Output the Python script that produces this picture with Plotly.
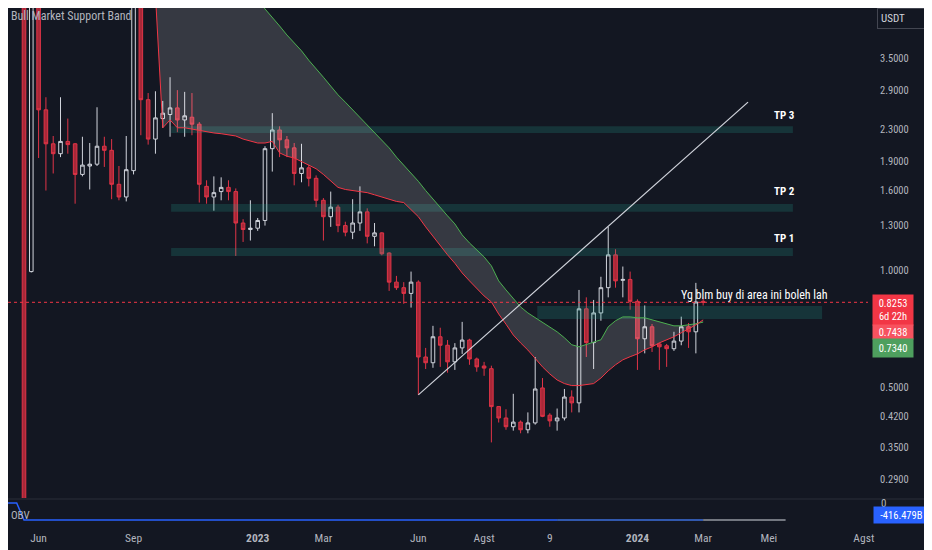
import math

import pandas as pd
import plotly.graph_objects as go

# weekly candles (USDT), from the week of 23 May 2022 to the running week of 4 Mar 2024
first_week = "2022-05-23"

opens = [5.8, 0.99, 4.85, 2.58, 2.11, 1.99, 2.14, 2.11, 1.76, 1.85,
         1.87, 2.08, 2.03, 1.66, 1.54, 1.80, 5.4, 2.74, 2.17, 2.45,
         2.51, 2.61, 2.43, 2.47, 2.37, 1.64, 1.54, 1.59, 1.63, 1.59,
         1.32, 1.27, 1.28, 1.34, 2.05, 2.29, 2.16, 2.06, 1.77, 1.83,
         1.72, 1.51, 1.37, 1.45, 1.30, 1.25, 1.32, 1.41, 1.22, 1.245,
         1.105, 0.93, 0.90, 0.87, 0.93, 0.597, 0.577, 0.673, 0.64, 0.58,
         0.63, 0.66, 0.59, 0.566, 0.557, 0.445, 0.416, 0.395, 0.406, 0.388,
         0.404, 0.497, 0.423, 0.409, 0.416, 0.471, 0.455, 0.794, 0.65, 0.775,
         0.90, 1.093, 0.94, 0.945, 0.83, 0.665, 0.714, 0.645, 0.638, 0.627,
         0.656, 0.714, 0.693, 0.83]
highs = [6.2, 5.6, 5.3, 2.78, 2.21, 2.78, 2.45, 2.12, 2.20, 2.12,
         2.62, 2.20, 2.17, 1.85, 2.21, 6.0, 5.7, 2.85, 2.88, 2.72,
         3.13, 2.90, 2.87, 2.85, 2.40, 1.70, 1.74, 1.73, 1.70, 1.62,
         1.35, 1.51, 1.36, 2.08, 2.53, 2.34, 2.21, 2.12, 2.11, 1.86,
         1.75, 1.53, 1.59, 1.47, 1.33, 1.52, 1.64, 1.44, 1.32, 1.25,
         1.11, 0.965, 0.93, 0.99, 0.94, 0.63, 0.718, 0.71, 0.66, 0.648,
         0.735, 0.665, 0.595, 0.58, 0.567, 0.446, 0.438, 0.48, 0.41, 0.43,
         0.597, 0.527, 0.428, 0.44, 0.494, 0.49, 0.888, 0.85, 0.837, 0.96,
         1.29, 1.13, 1.02, 0.99, 0.84, 0.81, 0.726, 0.65, 0.645, 0.693,
         0.758, 0.73, 0.926, 0.85]
lows = [0.15, 0.985, 1.94, 1.60, 1.77, 1.95, 1.99, 1.48, 1.74, 1.61,
        1.85, 1.84, 1.52, 1.51, 1.50, 1.76, 2.22, 2.10, 1.99, 2.32,
        2.20, 2.26, 2.20, 2.22, 1.49, 1.48, 1.42, 1.51, 1.51, 1.086,
        1.18, 1.19, 1.26, 1.30, 1.79, 1.95, 1.95, 1.65, 1.68, 1.64,
        1.45, 1.19, 1.29, 1.25, 1.22, 1.20, 1.26, 1.17, 1.15, 1.09,
        0.883, 0.888, 0.818, 0.80, 0.477, 0.556, 0.56, 0.563, 0.544, 0.553,
        0.608, 0.57, 0.547, 0.534, 0.36, 0.405, 0.388, 0.386, 0.38, 0.38,
        0.40, 0.418, 0.395, 0.386, 0.41, 0.43, 0.43, 0.597, 0.556, 0.74,
        0.85, 0.90, 0.85, 0.79, 0.553, 0.61, 0.615, 0.553, 0.563, 0.619,
        0.64, 0.63, 0.61, 0.81]
closes = [0.2, 4.85, 2.58, 2.11, 1.99, 2.14, 2.10, 1.76, 1.86, 1.87,
          2.08, 2.03, 1.66, 1.54, 1.81, 5.4, 2.74, 2.17, 2.46, 2.53,
          2.61, 2.43, 2.49, 2.37, 1.66, 1.54, 1.58, 1.63, 1.59, 1.32,
          1.27, 1.28, 1.34, 2.05, 2.29, 2.16, 2.06, 1.77, 1.83, 1.72,
          1.51, 1.37, 1.45, 1.30, 1.25, 1.32, 1.41, 1.22, 1.245, 1.10,
          0.93, 0.90, 0.87, 0.93, 0.597, 0.577, 0.673, 0.64, 0.58, 0.63,
          0.66, 0.59, 0.563, 0.559, 0.445, 0.416, 0.395, 0.406, 0.388, 0.404,
          0.494, 0.42, 0.409, 0.416, 0.471, 0.455, 0.794, 0.65, 0.775, 0.90,
          1.093, 0.937, 0.945, 0.83, 0.665, 0.714, 0.638, 0.634, 0.627, 0.656,
          0.714, 0.693, 0.827, 0.8253]

# Bull Market Support Band: 20w SMA (red) and 21w EMA (green), from the 19th week on
band_from = 18
sma20 = [5.1, 2.32, 2.43, 2.32, 2.32, 2.30, 2.28, 2.26, 2.25, 2.24,
         2.22, 2.21, 2.17, 2.14, 2.12, 2.12, 2.14, 2.00, 1.96, 1.94,
         1.90, 1.86, 1.82, 1.76, 1.69, 1.63, 1.61, 1.60, 1.59, 1.58,
         1.56, 1.54, 1.52, 1.50, 1.49, 1.43, 1.37, 1.29, 1.22, 1.15,
         1.093, 1.04, 0.982, 0.937, 0.894, 0.857, 0.827, 0.77, 0.725, 0.68,
         0.649, 0.622, 0.592, 0.563, 0.54, 0.521, 0.51, 0.504, 0.504, 0.506,
         0.51, 0.527, 0.55, 0.57, 0.587, 0.598, 0.608, 0.623, 0.634, 0.649,
         0.661, 0.673, 0.689, 0.705, 0.722, 0.7438]
ema21 = [9.9, 9.36, 8.93, 8.54, 8.13, 7.72, 7.37, 7.02, 6.69, 6.31,
         6.01, 5.70, 5.44, 5.18, 4.94, 4.69, 4.47, 4.24, 4.02, 3.83,
         3.66, 3.46, 3.30, 3.13, 2.97, 2.82, 2.70, 2.58, 2.46, 2.36,
         2.25, 2.16, 2.06, 1.95, 1.86, 1.775, 1.69, 1.60, 1.52, 1.44,
         1.377, 1.313, 1.23, 1.173, 1.126, 1.08, 1.024, 0.937, 0.888, 0.842,
         0.803, 0.775, 0.753, 0.735, 0.714, 0.693, 0.669, 0.642, 0.634, 0.642,
         0.653, 0.661, 0.714, 0.74, 0.757, 0.757, 0.753, 0.753, 0.744, 0.735,
         0.727, 0.718, 0.718, 0.722, 0.727, 0.7340]

# OBV pane (billions): main line, highlighted recent part, faded projection
obv_weeks = ["2022-04-25", "2022-05-16", "2022-05-23", "2023-10-16"]
obv_values = [0.0, 0.0, -416.2, -416.4]
obv_recent_weeks = ["2023-10-16", "2024-03-04"]
obv_recent = [-416.4, -416.479]
obv_ahead_weeks = ["2024-03-04", "2024-05-22"]
obv_ahead = [-416.479, -416.479]

# drawings
tp_zone_weeks = ["2022-10-11", "2024-05-29"]
tp1_zone = [1.086, 1.139]
tp2_zone = [1.41, 1.478]
tp3_zone = [2.25, 2.34]
buy_zone_weeks = ["2023-09-27", "2024-06-26"]
buy_zone = [0.748, 0.808]
trend_weeks = ["2023-06-05", "2024-04-16"]
trend_prices = [0.477, 2.70]

price_ticks = [0.29, 0.35, 0.42, 0.5, 1.0, 1.3, 1.6, 1.9, 2.3, 2.9, 3.5]
date_ticks = ["2022-06-06", "2022-09-05", "2023-01-02", "2023-03-06", "2023-06-05", "2023-08-07",
              "2023-10-09", "2024-01-01", "2024-03-04", "2024-05-06", "2024-08-05"]
date_labels = ["Jun", "Sep", "<b>2023</b>", "Mar", "Jun", "Agst", "9", "<b>2024</b>", "Mar", "Mei", "Agst"]

BG = "#131722"
TXT = "#b2b5be"
FONT = "Roboto Condensed, Liberation Sans Narrow, Roboto"
ZONE = "rgba(34,171,148,0.2)"
# the page has an 8px body margin, so the visible plot starts 8px into the chart
x_range = ["2022-05-07 16:00", "2024-08-09"]

weeks = pd.date_range(first_week, periods=len(closes), freq="7D")
band_weeks = weeks[band_from:]

fig = go.Figure()


def zone(xs, lohi):
    fig.add_trace(go.Scatter(
        x=[xs[0], xs[1], xs[1], xs[0], xs[0]],
        y=[lohi[0], lohi[0], lohi[1], lohi[1], lohi[0]],
        mode="lines", line=dict(width=0), fill="toself", fillcolor=ZONE,
        hoverinfo="skip", showlegend=False))


zone(tp_zone_weeks, tp3_zone)
zone(tp_zone_weeks, tp2_zone)
zone(tp_zone_weeks, tp1_zone)
zone(buy_zone_weeks, buy_zone)

# the band: green EMA first, red SMA fills to it
fig.add_trace(go.Scatter(x=band_weeks, y=ema21, mode="lines",
                         line=dict(color="#4caf50", width=1), showlegend=False))
fig.add_trace(go.Scatter(x=band_weeks, y=sma20, mode="lines", fill="tonexty",
                         fillcolor="rgba(255,255,255,0.15)",
                         line=dict(color="#f23645", width=1), showlegend=False))

# last price line
fig.add_trace(go.Scatter(x=x_range, y=[closes[-1], closes[-1]], mode="lines",
                         line=dict(color="#f23645", width=1, dash="dot"),
                         hoverinfo="skip", showlegend=False))

fig.add_trace(go.Candlestick(
    x=weeks, open=opens, high=highs, low=lows, close=closes,
    increasing=dict(line=dict(color="#d1d4dc", width=1), fillcolor=BG),
    decreasing=dict(line=dict(color="#e03447", width=1), fillcolor="#a82838"),
    whiskerwidth=0, showlegend=False))

fig.add_trace(go.Scatter(x=trend_weeks, y=trend_prices, mode="lines",
                         line=dict(color="#d1d4dc", width=1.2), showlegend=False))

fig.add_trace(go.Scatter(x=obv_weeks, y=obv_values, mode="lines", yaxis="y2",
                         line=dict(color="#2962ff", width=1.5), showlegend=False))
fig.add_trace(go.Scatter(x=obv_recent_weeks, y=obv_recent, mode="lines", yaxis="y2",
                         line=dict(color="#3d6fdc", width=1.5), showlegend=False))
fig.add_trace(go.Scatter(x=obv_ahead_weeks, y=obv_ahead, mode="lines", yaxis="y2",
                         line=dict(color="#9598a1", width=1.5), showlegend=False))


# helpers: screen pixels of the reference -> paper coords (plot area is 860x513, 8px in)
def px(x):
    return (x - 8) / 860


def py(y):
    return (521 - y) / 513


def note(x, y, text, size=11, color=TXT, xanchor="center", **kw):
    fig.add_annotation(x=px(x), y=py(y), xref="paper", yref="paper", text=text,
                       xanchor=xanchor, yanchor="middle", showarrow=False,
                       font=dict(family=FONT, size=size, color=color), **kw)


note(9, 16, "Bull Market Support Band", size=12, xanchor="left")
note(784, 115, "<b>TP 3</b>", color="#ffffff")
note(784, 191, "<b>TP 2</b>", color="#ffffff")
note(784, 238, "<b>TP 1</b>", color="#ffffff")
note(754, 295, "Yg blm buy di area ini boleh lah", size=12, color="#ffffff")
note(9, 515, "OBV", xanchor="left")
note(883, 503, "0")

note(903, 18.5, "USDT", color="#d1d4dc", bordercolor="#434651", borderwidth=1,
     borderpad=3, width=44, height=13, align="left", bgcolor=BG)
note(893, 310, "0.8253<br>6d 22h", size=10.5, color="#ffffff", bgcolor="#f23645",
     width=40, height=30, borderpad=0)
note(893, 332, "0.7438", size=10.5, color="#ffffff", bgcolor="#f7525f",
     width=40, height=14, borderpad=0)
note(893, 348, "0.7340", size=10.5, color="#ffffff", bgcolor="#4e9f5e",
     width=40, height=18, borderpad=0)
note(901, 514.5, "-416.479B", size=10.5, color="#ffffff", bgcolor="#2962ff",
     width=55, height=16, borderpad=0)

# pane separator
fig.add_shape(type="line", xref="paper", yref="paper", x0=0, x1=1.1,
              y0=py(499), y1=py(499), line=dict(color="#2a2e39", width=1))

fig.update_layout(
    width=932, height=550,
    margin=dict(l=0, r=72, t=0, b=37),
    paper_bgcolor=BG, plot_bgcolor=BG,
    font=dict(family=FONT, size=11, color=TXT),
    showlegend=False,
    hovermode=False,
    xaxis=dict(type="date", range=x_range, anchor="y2", showgrid=False, zeroline=False,
               tickmode="array", tickvals=date_ticks, ticktext=date_labels,
               tickfont=dict(size=11.5, color=TXT), rangeslider=dict(visible=False),
               showline=False, ticks="", automargin=False, ticklabelstandoff=8),
    yaxis=dict(type="log", domain=[py(498), 1], side="right", anchor="x",
               range=[math.log10(0.259), math.log10(4.716)],
               tickmode="array", tickvals=price_ticks,
               ticktext=[f"{v:.4f}" for v in price_ticks], tickfont=dict(size=10.5),
               showgrid=False, zeroline=False, ticks="", ticklabelstandoff=11,
               automargin=False),
    yaxis2=dict(domain=[0, py(500)], range=[-441, 73.5], side="right", anchor="x",
                showgrid=False, zeroline=False, showticklabels=False, automargin=False),
)

fig.write_html("out.html")
